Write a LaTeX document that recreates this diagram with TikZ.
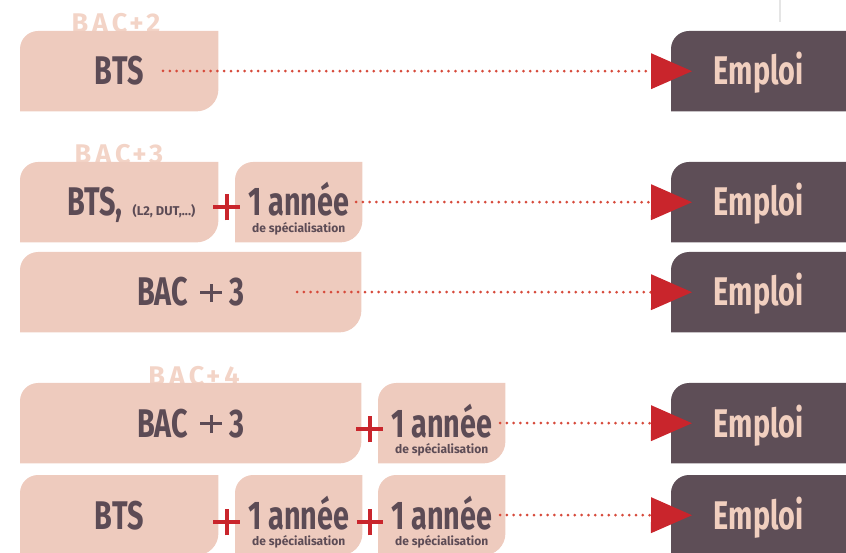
\documentclass[tikz,border=0pt]{standalone}
\usepackage{fontspec}
\setmainfont{Fira Sans}
\newfontfamily\dinfont[FakeStretch=0.72]{Fira Sans}
\newfontfamily\tagfont[LetterSpace=15]{Fira Sans}
\usetikzlibrary{arrows.meta, backgrounds, calc, positioning, shapes.misc}
\definecolor{boxpink}{HTML}{EECBBE}
\definecolor{tagpink}{HTML}{F3D4C7}
\definecolor{plum}{HTML}{5E4E57}
\definecolor{emptext}{HTML}{F1CFBF}
\definecolor{darktxt}{HTML}{5C4B55}
\definecolor{plusred}{HTML}{C9252C}
\definecolor{dotred}{HTML}{D64A3B}
\tikzset{
    stage/.style={rectangle, anchor=north west, inner sep=0pt, minimum height=80pt, minimum width=#1,
        text height=27.6pt, text depth=0pt, text=darktxt, font=\dinfont\bfseries\fontsize{40}{40}\selectfont},
    stage/.default={198pt},
    job/.style={stage=175pt, text=emptext},
    spec/.style={inner sep=0pt, text=darktxt, font=\bfseries\fontsize{12}{12}\selectfont},
    tag/.style={anchor=base, inner sep=0pt, text=tagpink, font=\tagfont\bfseries\fontsize{27}{27}\selectfont},
    plus/.style={cross out, rotate=45, draw=plusred, line width=3.8pt, minimum size=15pt, inner sep=0pt},
    dots/.style={draw=dotred, line width=3pt, line cap=round, dash pattern=on 0pt off 6.8pt,
        shorten >=-21pt, -{Triangle[length=41pt, width=36pt, line width=0pt, color=plusred]}}
}
\def\rad{18pt}
\def\radb{22pt}
\newcommand{\leafbox}[1]{%
    \fill[boxpink] (#1.south west) -- ([yshift=-\rad]#1.north west) arc[start angle=180, end angle=90, radius=\rad]
        -- (#1.north east) -- ([yshift=\radb]#1.south east) arc[start angle=0, end angle=-90, radius=\radb] -- cycle;}
\newcommand{\jobbox}[1]{%
    \fill[plum] (#1.south west) -- ([yshift=-\rad]#1.north west) arc[start angle=180, end angle=90, radius=\rad]
        -- (#1.north east) -- (#1.south east) -- cycle;}
\newcommand{\thinplus}{\rlap{\rule[11.5pt]{22pt}{3pt}}\hspace{9.5pt}\rule[4pt]{3pt}{18pt}\hspace{9.5pt}}
\newcommand{\bacplus}{BAC\hspace{12pt}\thinplus\hspace{7pt}3}

\begin{document}
\begin{tikzpicture}[x=1pt, y=1pt]
    \useasboundingbox (0,0) rectangle (846,552);
    \draw[black!10, line width=1.2pt] (780,552) -- (780,530);
    % boxes
    \node[stage] (bts1) at (20,521) {BTS};
    \node[stage] (bts2) at (20,390) {\hspace*{24pt}BTS,\hspace{10pt}{\normalfont\bfseries\fontsize{12.8}{12.8}\selectfont (L2, DUT,...)}};
    \node[stage=127pt] (yr2) at (235,390) {1 année};
    \node[stage=341pt] (bac3) at (20,300) {\bacplus};
    \node[stage=341pt] (bac4) at (20,169) {\bacplus};
    \node[stage=127pt] (yr4) at (378,169) {1 année};
    \node[stage] (bts5) at (20,77) {BTS};
    \node[stage=127pt] (yr5a) at (235,77) {1 année};
    \node[stage=127pt] (yr5b) at (378,77) {1 année};
    \foreach \i/\y in {1/521, 2/390, 3/300, 4/169, 5/77}
        \node[job] (job\i) at (671,\y) {Emploi};
    \foreach \n in {yr2, yr4, yr5a, yr5b}
        \node[spec] (sub-\n) at ([yshift=-27pt]\n.center) {de spécialisation};
    \node[plus] (plus2) at ($(bts2.east)!0.5!(yr2.west)+(0,-5)$) {};
    \node[plus] (plus4) at ($(bac4.east)!0.5!(yr4.west)+(0,-6)$) {};
    \node[plus] (plus5a) at ($(bts5.east)!0.5!(yr5a.west)+(0,-7)$) {};
    \node[plus] (plus5b) at ($(yr5a.east)!0.5!(yr5b.west)+(0,-7)$) {};
    % links
    \coordinate (go1) at (163,481);
    \coordinate (go2) at (356,350);
    \coordinate (go3) at (297,260);
    \coordinate (go4) at (500,129);
    \coordinate (go5) at (500,37);
    \foreach \i in {1,...,5}
        \draw[dots] (go\i) -- (job\i.west);
    \begin{scope}[on background layer]
    \node[tag] (tag2) at (116,519) {BAC+2};
    \node[tag] (tag3) at (119,388) {BAC+3};
    \node[tag] (tag4) at (194,166) {BAC+4};
    \foreach \n in {bts1, bts2, yr2, bac3, bac4, yr4, bts5, yr5a, yr5b}
        {\leafbox{\n}}
    \foreach \i in {1,...,5}
        {\jobbox{job\i}}
    \end{scope}
\end{tikzpicture}
\end{document}
